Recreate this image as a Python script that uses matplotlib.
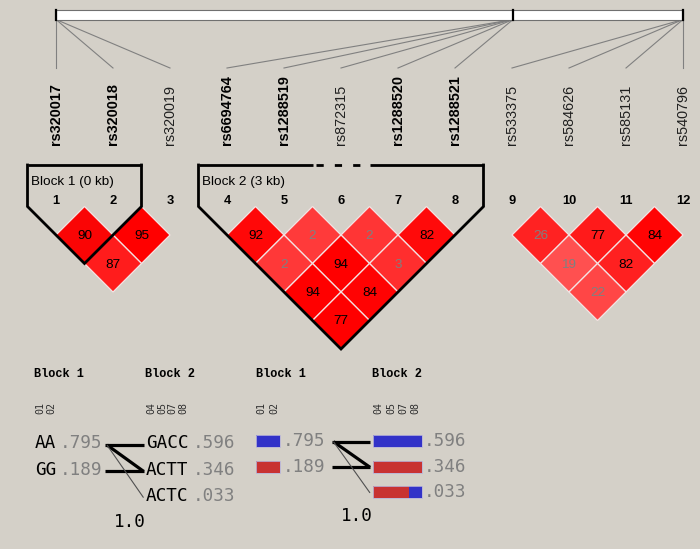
import matplotlib
matplotlib.use("Agg")
import matplotlib.pyplot as plt
from matplotlib.patches import Polygon, Rectangle

# ---------------- data ----------------
snp_names = ["rs320017", "rs320018", "rs320019", "rs6694764", "rs1288519", "rs872315",
             "rs1288520", "rs1288521", "rs533375", "rs584626", "rs585131", "rs540796"]
snp_bold = [True, True, False, True, True, False, True, True, False, False, False, False]
snp_locus = [0, 0, 0, 1, 1, 1, 1, 1, 2, 2, 2, 2]      # physical cluster of each marker
locus_frac = [0.0, 0.7289, 1.0]                      # relative position of each cluster on the map

ld_pairs = [(1, 2), (2, 3), (1, 3),
            (4, 5), (5, 6), (6, 7), (7, 8), (4, 6), (5, 7), (6, 8), (4, 7), (5, 8), (4, 8),
            (9, 10), (10, 11), (11, 12), (9, 11), (10, 12), (9, 12)]
ld_dprime = [90, 95, 87,
             92, 2, 2, 82, 2, 94, 3, 94, 84, 77,
             26, 77, 84, 19, 82, 22]
ld_colors = ["#fa0505", "#ff0000", "#ff1c1c",
             "#ff0808", "#ff3a3a", "#ff3535", "#ff0a0a", "#ff3838", "#ff0000", "#ff2e2e",
             "#ff0000", "#ff0303", "#ff0000",
             "#ff2222", "#ff1a1a", "#ff0404", "#ff5050", "#ff2020", "#ff4646"]

blocks = [(1, 2), (4, 8)]
block_labels = ["Block 1 (0 kb)", "Block 2 (3 kb)"]
block_excluded = [[], [6]]

hap_block_names = ["Block 1", "Block 2"]
hap_markers = [["01", "02"], ["04", "05", "07", "08"]]
hap_seqs = [["AA", "GG"], ["GACC", "ACTT", "ACTC"]]
hap_freqs = [[0.795, 0.189], [0.596, 0.346, 0.033]]
hap_links = [(0, 0), (0, 1), (1, 1), (0, 2)]
hap_link_thick = [True, True, True, False]
multiallelic_dprime = 1.0

# ---------------- style / layout ----------------
BG = "#d4d0c8"
X0, DX = 56.0, 57.0
HALF = DX / 2
Y_ROW0 = 235.0
SANS = "Liberation Sans"
MONO = "DejaVu Sans Mono"

fig = plt.figure(figsize=(7.0, 5.49), dpi=100, facecolor=BG)
ax = fig.add_axes([0, 0, 1, 1])
ax.set_xlim(0, 700)
ax.set_ylim(549, 0)
ax.axis("off")
ax.set_facecolor(BG)


def sx(i):  # 1-based marker index -> x
    return X0 + DX * (i - 1)


# ---- physical map bar ----
bar_l, bar_r = X0, X0 + DX * (len(snp_names) - 1)
ax.add_patch(Rectangle((bar_l, 9.5), bar_r - bar_l, 10, facecolor="white",
                       edgecolor="#707070", lw=0.8, zorder=2))
for f in locus_frac:
    xx = bar_l + f * (bar_r - bar_l)
    ax.plot([xx, xx], [9.5, 19.5], color="black", lw=1.6, zorder=3)
for k, name in enumerate(snp_names):
    xa = bar_l + locus_frac[snp_locus[k]] * (bar_r - bar_l)
    ax.plot([xa, sx(k + 1)], [19.5, 68], color="#808080", lw=0.8, zorder=1)
    ax.text(sx(k + 1), 145, name, rotation=90, ha="center", va="bottom",
            fontsize=10.4, family=SANS, fontweight="bold" if snp_bold[k] else "normal",
            color="black" if snp_bold[k] else "#202020")
    ax.text(sx(k + 1), 201, str(k + 1), ha="center", va="center", fontsize=9.3,
            family=SANS, fontweight="bold")

# ---- LD diamonds ----
for (i, j), v, c in zip(ld_pairs, ld_dprime, ld_colors):
    cx = (sx(i) + sx(j)) / 2
    cy = Y_ROW0 + (j - i - 1) * HALF
    ax.add_patch(Polygon([(cx, cy - HALF), (cx + HALF, cy), (cx, cy + HALF), (cx - HALF, cy)],
                         closed=True, facecolor=c, edgecolor="#f4e4e4", lw=0.9, zorder=2))
    ax.text(cx, cy + 1, str(v), ha="center", va="center", fontsize=9.7, family=SANS,
            color="black" if v >= 50 else "#808080", zorder=3)

# ---- block outlines ----
for (a, b), lab, excl in zip(blocks, block_labels, block_excluded):
    xl, xr = sx(a) - HALF, sx(b) + HALF
    ytop, yside = 165.0, 206.5
    bx = (sx(a) + sx(b)) / 2
    by = Y_ROW0 + (b - a - 1) * HALF + HALF
    ax.plot([xl, xl, bx, xr, xr], [ytop, yside, by, yside, ytop], color="black",
            lw=2.0, solid_joinstyle="miter", zorder=4)
    segs = []
    cur = xl
    for e in excl:
        ds, de = sx(e) - HALF, sx(e) + HALF
        segs.append((cur, ds, "-"))
        segs.append((ds, de, "--"))
        cur = de
    segs.append((cur, xr, "-"))
    for s0, s1, st in segs:
        if st == "-":
            ax.plot([s0, s1], [ytop, ytop], color="black", lw=2.0, solid_capstyle="butt", zorder=4)
        else:
            ax.plot([s0 + 3, s1], [ytop, ytop], color="black", lw=2.0,
                    dashes=(2.6, 4.0), zorder=4)
    ax.text(xl + 3.5, 182, lab, ha="left", va="center", fontsize=9.7, family=SANS)

# ---- haplotype displays ----
ADV = 10.6
BLUE, RED = "#3232c8", "#c83232"


def header(x, name, markers, centers):
    ax.text(x, 374, name, ha="left", va="center", fontsize=8.6,
            family="Liberation Mono", fontweight="bold")
    for m, cxm in zip(markers, centers):
        ax.text(cxm, 414, m, rotation=90, ha="center", va="bottom", fontsize=7.2,
                family=MONO, color="#303030")


# left: text haplotypes
lx = [35.0, 146.0]
ly0, lstep = 443.5, 26.3
for b in range(2):
    n = len(hap_seqs[b][0])
    header(lx[b] - 1, hap_block_names[b], hap_markers[b],
           [lx[b] + ADV * (k + 0.5) for k in range(n)])
    for r, (s, f) in enumerate(zip(hap_seqs[b], hap_freqs[b])):
        yy = ly0 + r * lstep
        ax.text(lx[b], yy, s, ha="left", va="center", fontsize=12.7, family=MONO, color="black")
        ax.text(lx[b] + n * ADV + 4, yy, ("%.3f" % f)[1:], ha="left", va="center",
                fontsize=12.7, family=MONO, color="#808080")
for (a, b), thick in zip(hap_links, hap_link_thick):
    y1 = ly0 + a * lstep + 1.5
    y2 = ly0 + b * lstep + 1.5
    x1 = 105 if a == b or b == 0 else 107
    ax.plot([x1, 143.5], [y1, y2], color="black" if thick else "#505050",
            lw=2.3 if thick else 0.8, solid_capstyle="butt", zorder=3)
ax.text(114, 522, "%.1f" % multiallelic_dprime, ha="left", va="center",
        fontsize=12.7, family=MONO)

# right: coloured bar haplotypes
rx = [255.5, 372.5]
CW = 12.3
ry0, rstep = 441.0, 25.6
for b in range(2):
    n = len(hap_seqs[b][0])
    header(rx[b], hap_block_names[b], hap_markers[b],
           [rx[b] + CW * (k + 0.5) for k in range(n)])
    major = hap_seqs[b][0]
    for r, (s, f) in enumerate(zip(hap_seqs[b], hap_freqs[b])):
        yy = ry0 + r * rstep
        for k, ch in enumerate(s):
            col = BLUE if ch == major[k] else RED
            ax.add_patch(Rectangle((rx[b] + k * CW, yy - 6), CW, 12, facecolor=col,
                                   edgecolor="none", zorder=2))
        ax.add_patch(Rectangle((rx[b], yy - 6), n * CW, 12, facecolor="none",
                               edgecolor="#b8b4d8", lw=0.6, zorder=3))
        ax.text(rx[b] + n * CW + 2.5, yy, ("%.3f" % f)[1:], ha="left", va="center",
                fontsize=12.7, family=MONO, color="#808080")
for (a, b), thick in zip(hap_links, hap_link_thick):
    y1 = ry0 + a * rstep + 0.7
    y2 = ry0 + b * rstep + 0.7
    x1 = 331.5 if a == b or b == 0 else 333.5
    ax.plot([x1, 370], [y1, y2], color="black" if thick else "#505050",
            lw=2.3 if thick else 0.8, solid_capstyle="butt", zorder=3)
ax.text(341, 516, "%.1f" % multiallelic_dprime, ha="left", va="center",
        fontsize=12.7, family=MONO)

fig.savefig("out.png", dpi=100, facecolor=BG)
